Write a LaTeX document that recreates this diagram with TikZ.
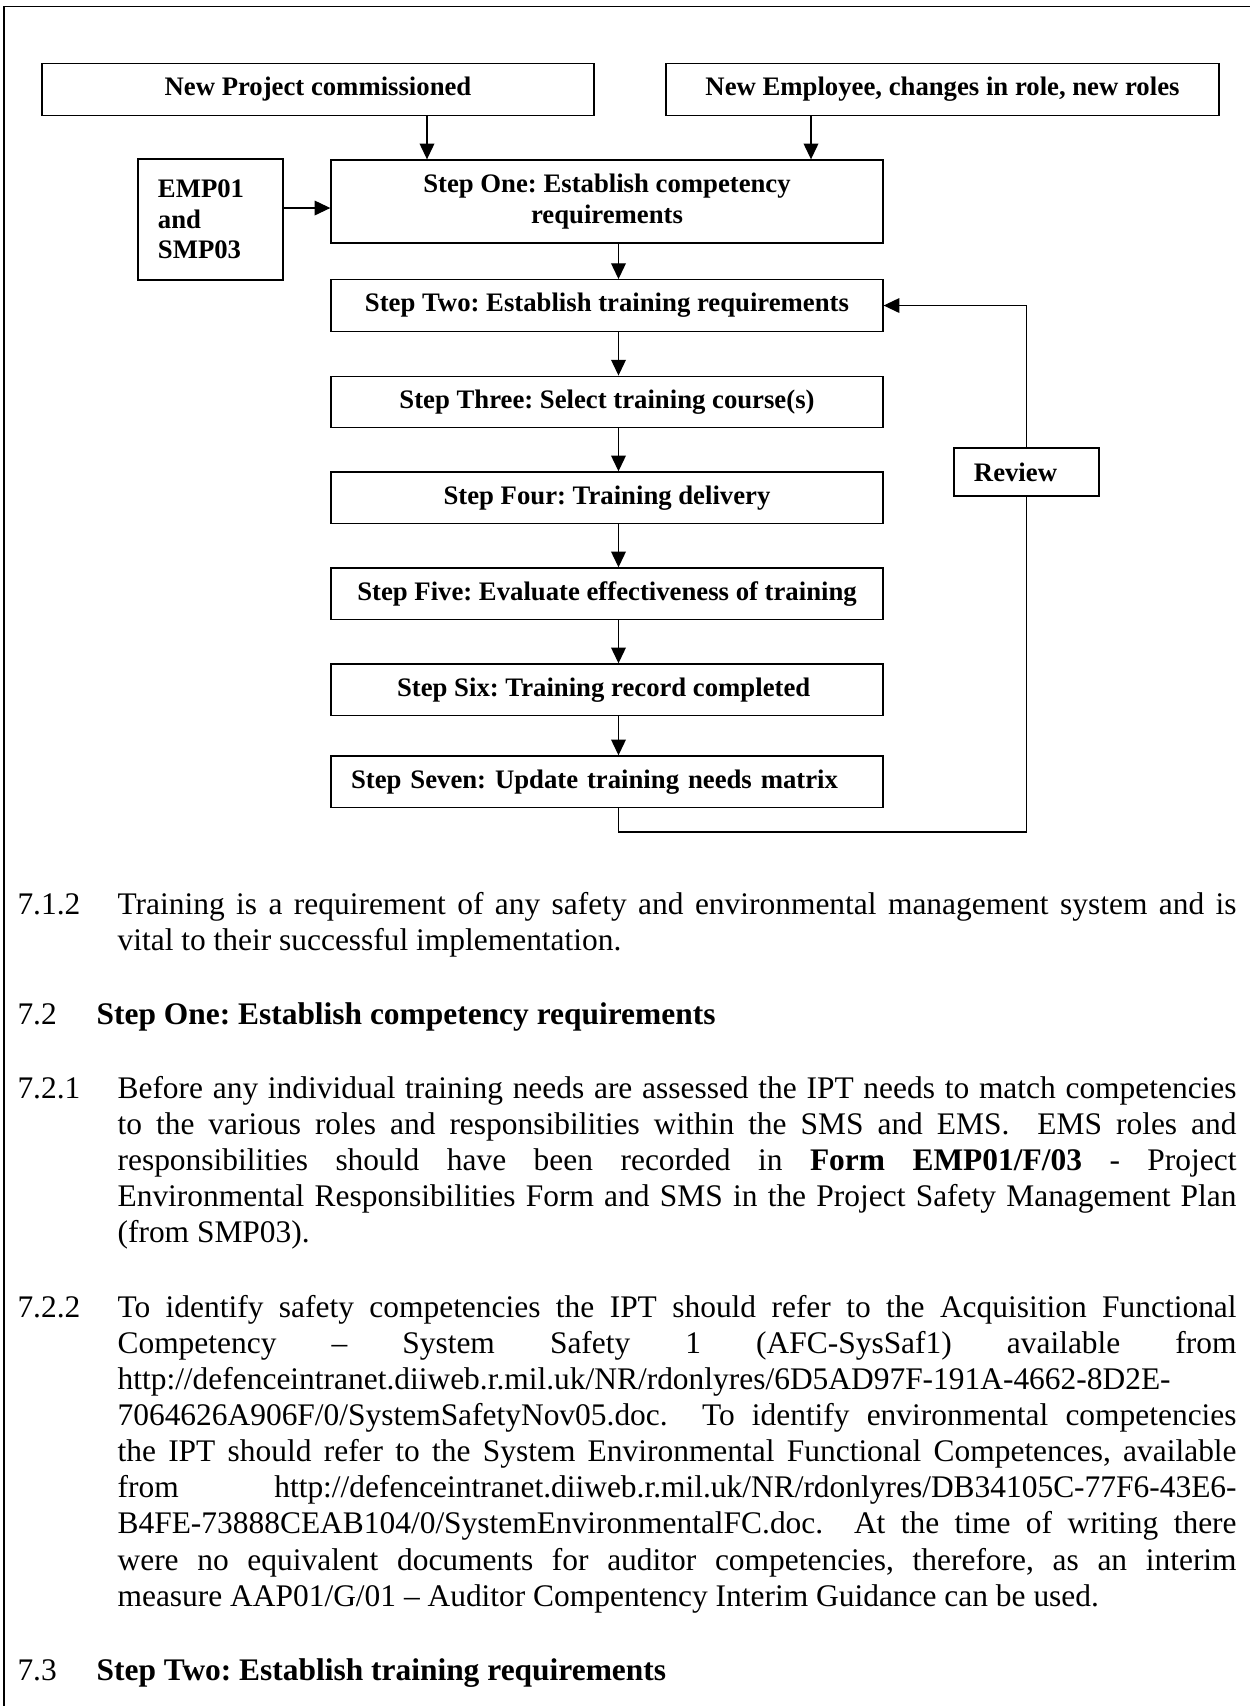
\documentclass[tikz,border=0pt]{standalone}
\usepackage{fontspec}
\setmainfont{Liberation Serif}
\usepackage{tikz}
\usetikzlibrary{arrows.meta,positioning}
\newcommand{\bodyfont}{\fontsize{12}{13.8}\selectfont}
\newcommand{\boxfont}{\fontsize{10.2}{11.6}\selectfont\bfseries}
\newlength{\parw}\setlength{\parw}{465.3pt}
\newlength{\indw}\setlength{\indw}{38.2pt}
\newlength{\hdw}\setlength{\hdw}{30.2pt}
\newcommand{\numln}[2]{\hbox to \parw{\hbox to \indw{#1\hfil}#2}}
\newcommand{\justln}[1]{\hbox to \parw{\hskip\indw #1}}
\newcommand{\lastln}[1]{\hbox to \parw{\hskip\indw #1\hfil}}
\newcommand{\headln}[2]{\hbox to \parw{\hbox to \hdw{#1\hfil}\textbf{#2}\hfil}}

\begin{document}
\frenchspacing
\begin{tikzpicture}[x=0.3817pt,y=-0.3817pt,
  stepbox/.style={draw,line width=.5pt,font=\boxfont,align=center,inner sep=0pt,
                  minimum width=210.7pt,minimum height=19.7pt},
  notebox/.style={draw,line width=.5pt,font=\boxfont,align=left,inner xsep=7.6pt,
                  inner ysep=0pt,text width=40.1pt},
  flow/.style={-{Triangle[length=6pt,width=5.6pt]},line width=.5pt},
  link/.style={line width=.5pt},
  para/.style={anchor=base west,inner sep=0pt,font=\bodyfont}
]
\useasboundingbox (0,0) rectangle (1250,1706);
% page frame
\draw[line width=.65pt] (4,1706) -- (4,6.5) -- (1250,6.5);

% triggers and inputs
\node[stepbox] (proj) at (318,89.5) {New Project commissioned};
\node[stepbox,minimum width=211.1pt] (empl) at (942.5,89.5)
  {New Employee, changes in role, new roles};
\node[notebox,minimum height=46.2pt] (ref) at (210.5,219.5) {EMP01\\and\\SMP03};

% the seven steps
\node[stepbox,minimum height=31.7pt] (s1) at (607,201.5)
  {Step One: Establish competency\\requirements};
\foreach \k/\y/\txt in {
  2/305.5/{Step Two: Establish training requirements},
  3/402/{Step Three: Select training course(s)},
  4/497.75/{Step Four: Training delivery},
  5/593.75/{Step Five: Evaluate effectiveness of training},
  6/689.75/{Step Six: Training record completed}
} {
  \node[stepbox] (s\k) at (607,\y) {\txt};
}
\node[stepbox,align=left,inner xsep=7.6pt,text width=195.4pt] (s7) at (607,781.75)
  {Step Seven: Update training needs matrix};
\node[notebox,minimum height=18.3pt] (rev) at (1026.5,472) {Review};

\coordinate (a1) at (427,0);
\coordinate (a2) at (811,0);
\coordinate (cx) at (618.5,0);
\coordinate (ry) at (0,208);
\coordinate (lb) at (0,832);
\draw[flow] (proj.south -| a1) -- (s1.north -| a1);
\draw[flow] (empl.south -| a2) -- (s1.north -| a2);
\draw[flow] (ref.east |- ry) -- (s1.west |- ry);
\foreach \a/\b in {s1/s2,s2/s3,s3/s4,s4/s5,s5/s6,s6/s7}
  \draw[flow] (\a.south -| cx) -- (\b.north -| cx);
% review loop
\draw[link] (s7.south -| cx) -- (cx |- lb) -| (rev.south);
\draw[flow] (rev.north) |- (s2.east);

% text below the chart
\node[para] (p712) at (17,914) {\vtop{
  \numln{7.1.2}{Training is a requirement of any safety and environmental management system and is}
  \lastln{vital to their successful implementation.}}};
\node[para] (h72) at (17,1024) {\vtop{
  \headln{7.2}{Step One: Establish competency requirements}}};
\node[para] (p721) at (17,1098) {\vtop{
  \numln{7.2.1}{Before any individual training needs are assessed the IPT needs to match competencies}
  \justln{to the various roles and responsibilities within the SMS and EMS.\ \ EMS roles and}
  \justln{responsibilities should have been recorded in \textbf{Form EMP01/F/03} - Project}
  \justln{Environmental Responsibilities Form and SMS in the Project Safety Management Plan}
  \lastln{(from SMP03).}}};
\node[para] (p722) at (17,1317) {\vtop{
  \numln{7.2.2}{To identify safety competencies the IPT should refer to the Acquisition Functional}
  \justln{Competency -- System Safety 1 (AFC-SysSaf1) available from}
  \lastln{http://defenceintranet.diiweb.r.mil.uk/NR/rdonlyres/6D5AD97F-191A-4662-8D2E-}
  \justln{7064626A906F/0/SystemSafetyNov05.doc.\ \ To identify environmental competencies}
  \justln{the IPT should refer to the System Environmental Functional Competences, available}
  \justln{from http://defenceintranet.diiweb.r.mil.uk/NR/rdonlyres/DB34105C-77F6-43E6-}
  \justln{B4FE-73888CEAB104/0/SystemEnvironmentalFC.doc.\ \ At the time of writing there}
  \justln{were no equivalent documents for auditor competencies, therefore, as an interim}
  \lastln{measure AAP01/G/01 -- Auditor Compentency Interim Guidance can be used.}}};
\node[para] (h73) at (17,1680) {\vtop{
  \headln{7.3}{Step Two: Establish training requirements}}};
\end{tikzpicture}
\end{document}
